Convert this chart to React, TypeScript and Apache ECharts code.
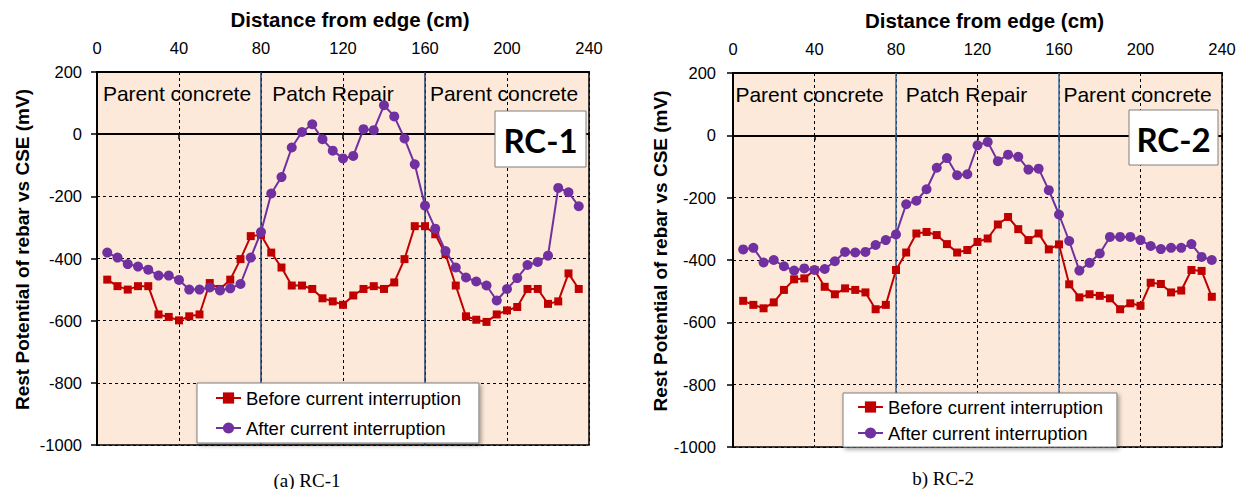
import React, { useEffect, useRef } from "react";
import * as echarts from "echarts";

const distances = [5, 10, 15, 20, 25, 30, 35, 40, 45, 50, 55, 60, 65, 70, 75, 80, 85, 90, 95, 100, 105, 110, 115, 120, 125, 130, 135, 140, 145, 150, 155, 160, 165, 170, 175, 180, 185, 190, 195, 200, 205, 210, 215, 220, 225, 230, 235];

const rc1Before = [-468, -489, -500, -489, -489, -580, -588, -599, -586, -580, -479, -498, -468, -402, -328, -324, -381, -429, -487, -487, -498, -528, -538, -549, -519, -498, -489, -498, -477, -402, -296, -296, -322, -386, -487, -586, -597, -604, -580, -567, -556, -498, -498, -546, -538, -448, -498];
const rc1After = [-381, -397, -418, -426, -436, -455, -455, -469, -500, -500, -493, -503, -496, -482, -397, -315, -191, -138, -43, 7, 32, -16, -53, -78, -70, 16, 13, 93, 57, -14, -97, -230, -304, -376, -429, -461, -474, -487, -535, -498, -463, -421, -411, -391, -173, -187, -232];
const rc2Before = [-531, -544, -555, -536, -496, -462, -459, -432, -486, -510, -491, -496, -504, -558, -544, -432, -376, -315, -310, -320, -349, -376, -368, -342, -331, -286, -262, -301, -336, -315, -366, -350, -478, -520, -510, -515, -523, -558, -539, -547, -473, -477, -504, -498, -432, -435, -518];
const rc2After = [-366, -361, -408, -400, -420, -434, -427, -432, -429, -404, -374, -376, -374, -352, -336, -318, -221, -210, -173, -104, -73, -128, -125, -32, -21, -83, -62, -69, -110, -107, -176, -254, -339, -434, -409, -379, -326, -326, -326, -336, -355, -365, -361, -361, -349, -390, -400];

const xTicks = { min: 0, max: 240, interval: 40 };
const yTicks = { min: -1000, max: 200, interval: 200 };
const zones = [
  { from: 0, to: 80, label: "Parent concrete" },
  { from: 80, to: 160, label: "Patch Repair" },
  { from: 160, to: 240, label: "Parent concrete" },
];
const boundaries = [80, 160];
const seriesNames = ["Before current interruption", "After current interruption"];
const panels = [
  { tag: "RC-1", caption: "(a) RC-1", before: rc1Before, after: rc1After },
  { tag: "RC-2", caption: "b) RC-2", before: rc2Before, after: rc2After },
];

const FONT = "'Liberation Sans', Arial, sans-serif";

export default function App() {
  const ref = useRef<HTMLDivElement>(null);
  useEffect(() => {
    if (!ref.current) return;
    const chart = echarts.init(ref.current, null, { renderer: "svg" });

    const grids = [
      { left: 97, top: 72, width: 492, height: 373 },
      { left: 733, top: 73, width: 489, height: 374 },
    ];
    const zoneOffsets = [
      [-2, -10, -3],
      [-5, -11, -3],
    ];
    const blueColors = ["#1F3B6E", "#33639A"];
    const yNameGaps = [65, 61];
    const yLabelMargins = [15, 17];

    const xAxis: any[] = [];
    const yAxis: any[] = [];
    const series: any[] = [];
    grids.forEach((g, gi) => {
      xAxis.push({
        type: "value",
        gridIndex: gi,
        ...xTicks,
        position: "top",
        name: "Distance from edge (cm)",
        nameLocation: "middle",
        nameGap: 42,
        nameTextStyle: { fontSize: 20.5, fontWeight: "bold", color: "#000", fontFamily: FONT, padding: [0, 0, 0, 14] },
        axisLine: { show: true, onZero: false, lineStyle: { color: "#000", width: 2 } },
        axisTick: { show: false },
        axisLabel: { fontSize: 16.5, color: "#000", margin: 16, fontFamily: FONT },
        splitLine: { show: true, lineStyle: { color: "#000", type: [3, 3], width: 1 } },
      });
      xAxis.push({
        type: "value",
        gridIndex: gi,
        ...xTicks,
        position: "bottom",
        axisLine: { show: true, onZero: true, lineStyle: { color: "#000", width: 2 } },
        axisTick: { show: true, length: 5, lineStyle: { color: "#000", width: 1.5 } },
        axisLabel: { show: false },
        splitLine: { show: false },
      });
      yAxis.push({
        type: "value",
        gridIndex: gi,
        ...yTicks,
        name: "Rest Potential of rebar vs CSE (mV)",
        nameLocation: "middle",
        nameGap: yNameGaps[gi],
        nameTextStyle: { fontSize: 19, fontWeight: "bold", color: "#000", fontFamily: FONT, padding: [0, 0, 0, 18] },
        axisLine: { show: true, onZero: false, lineStyle: { color: "#000", width: 2 } },
        axisTick: { show: true, length: 6, lineStyle: { color: "#000", width: 1.5 } },
        axisLabel: {
          fontSize: 16.5,
          color: "#000",
          margin: yLabelMargins[gi],
          fontFamily: FONT,
          formatter: (v: number) => String(v),
        },
        splitLine: { show: true, lineStyle: { color: "#000", type: [3, 3], width: 1 } },
      });
      const p = panels[gi];
      series.push({
        type: "line",
        name: seriesNames[0],
        xAxisIndex: gi * 2,
        yAxisIndex: gi,
        data: distances.map((d, i) => [d, p.before[i]]),
        symbol: "rect",
        symbolSize: 8,
        lineStyle: { color: "#C00000", width: 2 },
        itemStyle: { color: "#C00000" },
        z: 3,
        markLine: {
          silent: true,
          symbol: ["none", "none"],
          label: { show: false },
          lineStyle: { color: blueColors[gi], width: 1.5, type: "solid" },
          data: boundaries.map((b) => ({ xAxis: b })),
          z: 1,
        },
        markArea: {
          silent: true,
          itemStyle: { color: "rgba(0,0,0,0)" },
          data: zones.map((z, zi) => [
            {
              xAxis: z.from,
              name: z.label,
              label: {
                show: true,
                position: "insideTop",
                distance: 11,
                offset: [zoneOffsets[gi][zi], 0],
                fontSize: 21,
                color: "#000",
                fontFamily: FONT,
              },
            },
            { xAxis: z.to },
          ]),
        },
      });
      series.push({
        type: "line",
        name: seriesNames[1],
        xAxisIndex: gi * 2,
        yAxisIndex: gi,
        data: distances.map((d, i) => [d, p.after[i]]),
        symbol: "circle",
        symbolSize: 10,
        lineStyle: { color: "#7030A0", width: 2 },
        itemStyle: { color: "#7030A0" },
        z: 4,
      });
    });

    const legendBase = {
      orient: "vertical",
      data: seriesNames,
      selectedMode: false,
      backgroundColor: "#fff",
      borderColor: "#7f7f7f",
      borderWidth: 1,
      borderRadius: 0,
      itemWidth: 25,
      itemHeight: 14,
      itemGap: 0,
      shadowBlur: 4,
      shadowColor: "rgba(0,0,0,0.35)",
      shadowOffsetX: 2,
      shadowOffsetY: 2,
      textStyle: { fontSize: 18.5, color: "#000", fontFamily: FONT, lineHeight: 20 },
    };
    const legend = [
      { ...legendBase, left: 197, top: 383, padding: [5, 18, 5, 18], itemGap: 10 },
      { ...legendBase, left: 843, top: 393, padding: [4, 14, 4, 14], itemGap: 6 },
    ];

    const tagBoxes = [
      { x: 495, y: 111, w: 91, h: 56 },
      { x: 1129, y: 110, w: 89, h: 55 },
    ];
    const captionPos = [
      { x: 307, y: 480 },
      { x: 943, y: 478 },
    ];
    const graphic: any[] = [];
    tagBoxes.forEach((b, i) => {
      graphic.push({
        type: "rect",
        z: 100,
        x: b.x,
        y: b.y,
        shape: { x: 0, y: 0, width: b.w, height: b.h },
        style: { fill: "#fff", stroke: "#7f7f7f", lineWidth: 1 },
      });
      graphic.push({
        type: "text",
        z: 101,
        x: b.x + b.w / 2,
        y: b.y + b.h / 2 + 1,
        style: {
          text: panels[i].tag,
          fontSize: 33,
          fontWeight: "bold",
          fontFamily: "Lato, 'Open Sans', sans-serif",
          fill: "#000",
          align: "center",
          verticalAlign: "middle",
        },
      });
      graphic.push({
        type: "text",
        z: 101,
        x: captionPos[i].x,
        y: captionPos[i].y,
        style: {
          text: panels[i].caption,
          fontSize: 19,
          fontFamily: "'Liberation Serif', 'Times New Roman', serif",
          fill: "#000",
          align: "center",
          verticalAlign: "middle",
        },
      });
    });

    chart.setOption({
      animation: false,
      backgroundColor: "#fff",
      textStyle: { fontFamily: FONT },
      grid: grids.map((g) => ({
        ...g,
        show: true,
        backgroundColor: "#FDE9D9",
        borderColor: "#000",
        borderWidth: 1.5,
      })),
      xAxis,
      yAxis,
      series,
      legend,
      graphic,
    });
    return () => chart.dispose();
  }, []);
  return (
    <div
      ref={ref}
      style={{ position: "fixed", left: 0, top: 0, width: 1247, height: 489 }}
    />
  );
}
